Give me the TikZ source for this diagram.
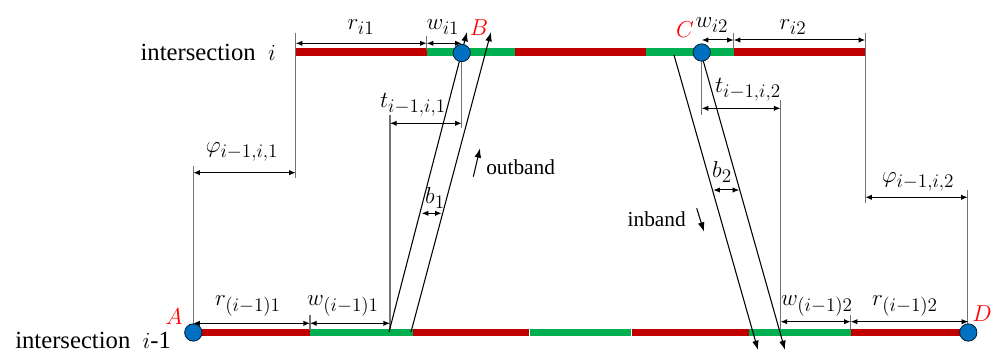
\documentclass[tikz,border=0pt]{standalone}
\usepackage{fontspec}
\setmainfont{Liberation Serif}
\usetikzlibrary{arrows.meta}
\DeclareMathSizes{17}{17}{13.5}{10}
\DeclareMathSizes{18}{18}{14}{10}
\definecolor{barred}{HTML}{C00000}
\definecolor{bargreen}{HTML}{00B050}
\definecolor{dotblue}{HTML}{0070C0}
\begin{document}
\begin{tikzpicture}[x=0.75pt,y=-0.75pt,
  redbar/.style={draw=barred,line width=5.6pt},
  greenbar/.style={draw=bargreen,line width=5.6pt},
  dot/.style={circle,draw=black!75!dotblue,fill=dotblue,minimum size=13pt,inner sep=0pt,line width=0.6pt},
  ext/.style={draw=black!55,line width=0.8pt},
  dim/.style={{Latex[length=5pt,width=4pt]}-{Latex[length=5pt,width=4pt]},line width=0.75pt,draw=black},
  traj/.style={-{Latex[length=7pt,width=5pt]},line width=0.8pt},
  lbl/.style={font=\fontsize{17}{19}\selectfont,inner sep=0pt},
  ptlbl/.style={text=red,font=\fontsize{18}{20}\selectfont,inner sep=0pt},
  txt/.style={font=\fontsize{18.5}{21}\selectfont,inner sep=0pt},
  bandtxt/.style={font=\fontsize{16}{19}\selectfont,inner sep=0pt}]
\useasboundingbox (0,0) rectangle (992,352);

% bars: intersection i
\draw[redbar]   (295.7,52) -- (426.7,52);
\draw[greenbar] (426.7,52) -- (515,52);
\draw[redbar]   (515,52) -- (645.7,52);
\draw[greenbar] (645.7,52) -- (733.7,52);
\draw[redbar]   (733.7,52) -- (865.3,52);
% bars: intersection i-1
\draw[redbar]   (193.3,332.5) -- (310,332.5);
\draw[greenbar] (310,332.5) -- (412.7,332.5);
\draw[redbar]   (412.7,332.5) -- (529.3,332.5);
\draw[greenbar] (529.8,332.5) -- (631,332.5);
\draw[redbar]   (631.5,332.5) -- (749,332.5);
\draw[greenbar] (749,332.5) -- (850.7,332.5);
\draw[redbar]   (850.7,332.5) -- (968.3,332.5);

% extension lines
\draw[ext] (295.7,33) -- (295.7,178);
\draw[ext] (193.3,166) -- (193.3,332);
\draw[ext] (426.7,36) -- (426.7,50);
\draw[ext] (461.7,60) -- (461.7,128);
\draw[ext] (390,115) -- (390,330);
\draw[ext] (310,315) -- (310,330);
\draw[ext] (701.7,60) -- (701.7,115);
\draw[ext] (733.7,33) -- (733.7,50);
\draw[ext] (780.5,100) -- (780.5,329);
\draw[ext] (865.3,33) -- (865.3,203);
\draw[ext] (967.7,190) -- (967.7,326);
\draw[ext] (850.7,315) -- (850.7,329);

% trajectories
\coordinate (o1s) at (389,332);
\coordinate (o1e) at (467,32);
\coordinate (o2s) at (411,332);
\coordinate (o2e) at (491,32);
\coordinate (i1s) at (674,55);
\coordinate (i1e) at (758,350);
\coordinate (i2s) at (703,60);
\coordinate (i2e) at (785,350);
\draw[traj] (o1s) -- (o1e);
\draw[traj] (o2s) -- (o2e);
\draw[traj] (i1s) -- (i1e);
\draw[traj] (i2s) -- (i2e);

% points
\node[dot] (B) at (461.7,53) {};
\node[dot] (C) at (701.7,52.5) {};
\node[dot] (A) at (193.3,332.5) {};
\node[dot] (D) at (968.3,332.5) {};

% dimension arrows
\coordinate (ri1a) at (295.7,43.3);
\coordinate (ri1b) at (426.7,43.3);
\coordinate (wi1b) at (461.7,43.3);
\draw[dim] (ri1a) -- (ri1b);
\draw[dim] (ri1b) -- (wi1b);
\coordinate (wi2a) at (701.7,40);
\coordinate (wi2b) at (733.7,40);
\coordinate (ri2b) at (865.3,40);
\draw[dim] (wi2a) -- (wi2b);
\draw[dim] (wi2b) -- (ri2b);
\coordinate (t1a) at (390,123.3);
\coordinate (t1b) at (461.7,123.3);
\draw[dim] (t1a) -- (t1b);
\coordinate (t2a) at (701.7,108.3);
\coordinate (t2b) at (780.5,108.3);
\draw[dim] (t2a) -- (t2b);
\coordinate (p1a) at (193.3,172.7);
\coordinate (p1b) at (295.7,172.7);
\draw[dim] (p1a) -- (p1b);
\coordinate (p2a) at (865.3,197.3);
\coordinate (p2b) at (967.7,197.3);
\draw[dim] (p2a) -- (p2b);
\coordinate (b1a) at (421.7,213.3);
\coordinate (b1b) at (441.7,213.3);
\draw[dim] (b1a) -- (b1b);
\coordinate (b2a) at (713.3,190);
\coordinate (b2b) at (739.3,190);
\draw[dim] (b2a) -- (b2b);
\coordinate (r1a) at (193.3,323.3);
\coordinate (r1b) at (310,323.3);
\coordinate (w1b) at (390,323.3);
\draw[dim] (r1a) -- (r1b);
\draw[dim] (r1b) -- (w1b);
\coordinate (w2a) at (780.5,321.7);
\coordinate (w2b) at (850.7,321.7);
\coordinate (r2b) at (968.3,321.7);
\draw[dim] (w2a) -- (w2b);
\draw[dim] (w2b) -- (r2b);

% band direction arrows
\coordinate (ob1) at (473.3,176.7);
\coordinate (ob2) at (480,148.3);
\draw[traj] (ob1) -- (ob2);
\coordinate (ib1) at (696.7,208.3);
\coordinate (ib2) at (704,231.7);
\draw[traj] (ib1) -- (ib2);

% texts
\node[txt,anchor=east] (ti) at (276,52) {intersection\ \ $i$};
\node[txt,anchor=west] (tim) at (15,340) {intersection\ \ $i$-1};
\node[bandtxt,anchor=west] (out) at (486,167) {outband};
\node[bandtxt,anchor=east] (in) at (686,219) {inband};

\node[ptlbl] (lA) at (174,317) {$A$};
\node[ptlbl] (lB) at (479,28) {$B$};
\node[ptlbl] (lC) at (685,30) {$C$};
\node[ptlbl] (lD) at (982,314) {$D$};

\node[lbl] (Lri1) at (361,27) {$r_{i1}$};
\node[lbl] (Lwi1) at (443,27) {$w_{i1}$};
\node[lbl] (Lwi2) at (712,25) {$w_{i2}$};
\node[lbl] (Lri2) at (793,27) {$r_{i2}$};
\node[lbl] (Lt1) at (413,105) {$t_{i-1,i,1}$};
\node[lbl] (Lt2) at (748,90) {$t_{i-1,i,2}$};
\node[lbl] (Lp1) at (242,152) {$\varphi_{i-1,i,1}$};
\node[lbl] (Lp2) at (918,182) {$\varphi_{i-1,i,2}$};
\node[lbl] (Lb1) at (435,198) {$b_1$};
\node[lbl] (Lb2) at (722,172) {$b_2$};
\node[lbl] (Lr1) at (248,306) {$r_{(i-1)1}$};
\node[lbl] (Lw1) at (343,306) {$w_{(i-1)1}$};
\node[lbl] (Lw2) at (817,306) {$w_{(i-1)2}$};
\node[lbl] (Lr2) at (905,306) {$r_{(i-1)2}$};
\end{tikzpicture}
\end{document}
